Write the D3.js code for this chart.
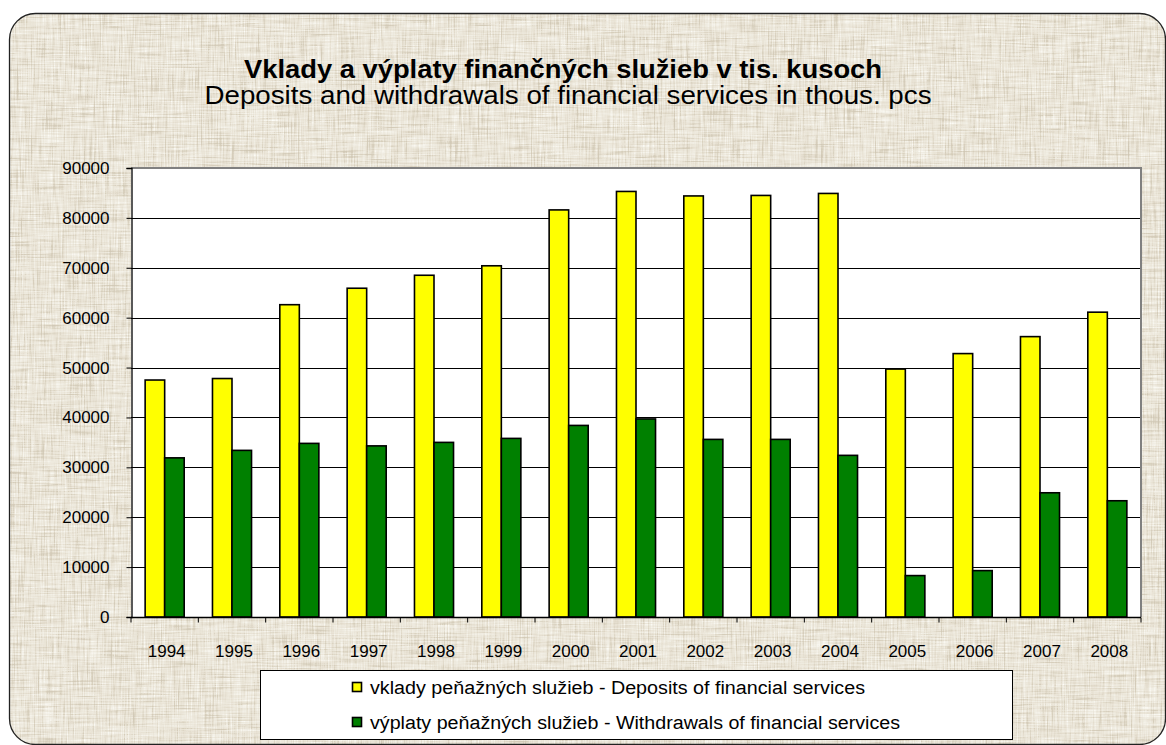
<!DOCTYPE html>
<html>
<head>
<meta charset="utf-8">
<script src="https://cdn.jsdelivr.net/npm/d3@7"></script>
<style>
  body { margin: 0; background: #fff; }
  text { font-family: Arial, "Liberation Sans", sans-serif; fill: #000; }
</style>
</head>
<body>
<script>
var width = 1166,
    height = 745;

// data
var years = ['1994', '1995', '1996', '1997', '1998', '1999', '2000', '2001',
             '2002', '2003', '2004', '2005', '2006', '2007', '2008'];
var deposits = [47500, 47800, 62600, 65900, 68500, 70400, 81600, 85300,
                84400, 84500, 84900, 49700, 52800, 56200, 61100];
var withdrawals = [31900, 33400, 34800, 34300, 35000, 35800, 38400, 39700,
                   35600, 35600, 32400, 8300, 9300, 24900, 23300];
var yTicks = [0, 10000, 20000, 30000, 40000, 50000, 60000, 70000, 80000, 90000];
var seriesNames = ['vklady peňažných služieb - Deposits of financial services',
                   'výplaty peňažných služieb - Withdrawals of financial services'];
var seriesColors = ['#ffff00', '#008000'];

var margin = {left: 131, right: 1141, top: 168, bottom: 617};

var svg = d3.select('body')
  .append('svg')
    .attr('width', width)
    .attr('height', height)

var defs = svg.append('defs');
var f = defs.append('filter')
    .attr('id', 'linen')
    .attr('x', 0).attr('y', 0).attr('width', '100%').attr('height', '100%')
    .attr('filterUnits', 'userSpaceOnUse');
f.append('feFlood').attr('flood-color', '#e0d8c6').attr('result', 'base');
f.append('feTurbulence')
    .attr('type', 'fractalNoise').attr('baseFrequency', '0.03 0.7')
    .attr('numOctaves', 2).attr('seed', 3).attr('result', 'h');
f.append('feTurbulence')
    .attr('type', 'fractalNoise').attr('baseFrequency', '0.7 0.03')
    .attr('numOctaves', 2).attr('seed', 9).attr('result', 'v');
f.append('feBlend').attr('in', 'h').attr('in2', 'v').attr('mode', 'multiply').attr('result', 'n');
f.append('feColorMatrix').attr('in', 'n').attr('type', 'matrix')
    .attr('values', '0 0 0 0 0.45  0 0 0 0 0.40  0 0 0 0 0.30  -1.6 0 0 0 0.62')
    .attr('result', 'dark');
f.append('feColorMatrix').attr('in', 'n').attr('type', 'matrix')
    .attr('values', '0 0 0 0 1  0 0 0 0 1  0 0 0 0 0.96  1.8 0 0 0 -0.45')
    .attr('result', 'light');
var m = f.append('feMerge').attr('result', 'tex');
m.append('feMergeNode').attr('in', 'base');
m.append('feMergeNode').attr('in', 'dark');
m.append('feMergeNode').attr('in', 'light');
f.append('feComposite').attr('in', 'tex').attr('in2', 'SourceGraphic').attr('operator', 'in');

// background panel
svg.append('rect')
    .attr('x', 9.5).attr('y', 13.5)
    .attr('width', 1156).attr('height', 732)
    .attr('rx', 26).attr('ry', 26)
    .attr('fill', '#000')
    .attr('filter', 'url(#linen)');
svg.append('rect')
    .attr('x', 9.5).attr('y', 13.5)
    .attr('width', 1156).attr('height', 731)
    .attr('rx', 26).attr('ry', 26)
    .attr('fill', 'none')
    .attr('stroke', '#222')
    .attr('stroke-width', 1.3);

// titles
svg.append('text')
    .attr('x', 563).attr('y', 78)
    .attr('text-anchor', 'middle')
    .attr('textLength', 638).attr('lengthAdjust', 'spacingAndGlyphs')
    .style('font-size', '25px').style('font-weight', 'bold')
    .text('Vklady a výplaty finančných služieb v tis. kusoch');
svg.append('text')
    .attr('x', 568).attr('y', 104)
    .attr('text-anchor', 'middle')
    .attr('textLength', 727).attr('lengthAdjust', 'spacingAndGlyphs')
    .style('font-size', '25px')
    .text('Deposits and withdrawals of financial services in thous. pcs');

var x0 = d3.scaleBand()
    .domain(years)
    .range([margin.left, margin.right])
    .paddingInner(0.42)
    .paddingOuter(0.21);
var x1 = d3.scaleBand()
    .domain([0, 1])
    .range([0, x0.bandwidth()]);
var y = d3.scaleLinear()
    .domain([0, 90000])
    .range([margin.bottom, margin.top]);

// plot area
svg.append('rect')
    .attr('x', margin.left).attr('y', margin.top)
    .attr('width', margin.right - margin.left)
    .attr('height', margin.bottom - margin.top)
    .attr('fill', '#fff');

svg.append('g')
  .selectAll('line')
    .data(yTicks.slice(1, -1)).enter()
  .append('line')
    .attr('x1', margin.left).attr('x2', margin.right)
    .attr('y1', function(d){ return Math.round(y(d)) + 0.5; })
    .attr('y2', function(d){ return Math.round(y(d)) + 0.5; })
    .attr('stroke', '#000')
    .attr('stroke-width', 1);

// gray top/right border
svg.append('path')
    .attr('d', 'M' + margin.left + ',' + margin.top + 'H' + margin.right + 'V' + margin.bottom)
    .attr('fill', 'none')
    .attr('stroke', '#808080')
    .attr('stroke-width', 2);

var series = [deposits, withdrawals];
series.forEach(function(vals, si){
  svg.append('g')
    .selectAll('rect')
      .data(vals).enter()
    .append('rect')
      .attr('x', function(d, i){ return x0(years[i]) + x1(si); })
      .attr('y', function(d){ return y(d); })
      .attr('width', x1.bandwidth())
      .attr('height', function(d){ return y(0) - y(d); })
      .attr('fill', seriesColors[si])
      .attr('stroke', '#000')
      .attr('stroke-width', 1.6);
});

// y axis
var yAxis = svg.append('g')
    .attr('transform', 'translate(' + (margin.left + 0.5) + ',0)')
    .call(d3.axisLeft(y).tickValues(yTicks).tickSize(5).tickPadding(17)
      .tickFormat(d3.format('d')));
yAxis.select('.domain').attr('stroke', '#000').attr('stroke-width', 1.3);
yAxis.selectAll('.tick line').attr('stroke', '#000');
yAxis.selectAll('text')
    .style('font-size', '17px')
    .style('font-family', 'Arial, "Liberation Sans", sans-serif');

// x axis with ticks between categories
var xAxisG = svg.append('g')
    .attr('transform', 'translate(0,' + (margin.bottom + 0.5) + ')');
xAxisG.append('line')
    .attr('x1', margin.left).attr('x2', margin.right)
    .attr('stroke', '#000').attr('stroke-width', 1.3);
var boundaries = years.map(function(d){ return x0(d) - x0.step() * x0.paddingInner() / 2; })
    .concat([margin.right]);
xAxisG.selectAll('line.tk')
    .data(boundaries).enter()
  .append('line')
    .attr('class', 'tk')
    .attr('x1', function(d){ return d; }).attr('x2', function(d){ return d; })
    .attr('y1', 0).attr('y2', 5)
    .attr('stroke', '#000');
xAxisG.selectAll('text')
    .data(years).enter()
  .append('text')
    .attr('x', function(d){ return x0(d) + x0.bandwidth() / 2 + 2; })
    .attr('y', 39)
    .attr('text-anchor', 'middle')
    .style('font-size', '17px')
    .text(function(d){ return d; });

// legend
var legend = svg.append('g');
legend.append('rect')
    .attr('x', 260.5).attr('y', 670.5)
    .attr('width', 752).attr('height', 69)
    .attr('fill', '#fff')
    .attr('stroke', '#000')
    .attr('stroke-width', 1);
var legendLengths = [495, 530];
var items = legend.selectAll('g.item')
    .data(seriesNames).enter()
  .append('g')
    .attr('class', 'item')
    .attr('transform', function(d, i){ return 'translate(352,' + (687 + i * 35) + ')'; });
items.append('rect')
    .attr('x', 0.5).attr('y', -4.5)
    .attr('width', 9).attr('height', 9)
    .attr('fill', function(d, i){ return seriesColors[i]; })
    .attr('stroke', '#000')
    .attr('stroke-width', 1.6);
items.append('text')
    .attr('x', 18).attr('y', 7)
    .attr('textLength', function(d, i){ return legendLengths[i]; })
    .attr('lengthAdjust', 'spacingAndGlyphs')
    .style('font-size', '18px')
    .text(function(d){ return d; });
</script>
</body>
</html>
